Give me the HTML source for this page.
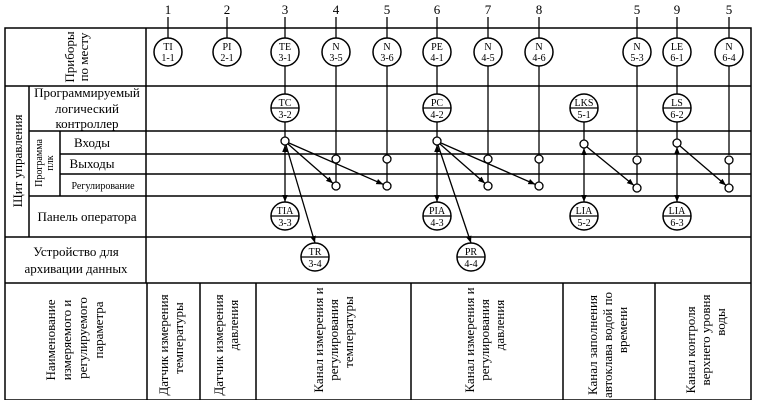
<!DOCTYPE html>
<html><head><meta charset="utf-8"><style>
html,body{margin:0;padding:0;background:#fff}
svg{display:block}
text{font-family:"Liberation Serif",serif;fill:#000}
.c{font-size:10px;text-anchor:middle}
.l{font-size:13px;text-anchor:middle}
.n{font-size:13px;text-anchor:middle}
</style></head><body>
<svg width="758" height="400" viewBox="0 0 758 400" xmlns="http://www.w3.org/2000/svg">
<defs>
<marker id="a" viewBox="0 0 10 10" refX="10" refY="5" markerWidth="7" markerHeight="7" orient="auto-start-reverse" markerUnits="userSpaceOnUse"><path d="M0,1 L10,5 L0,9 z" fill="#000"/></marker>
</defs>
<g stroke="#000" stroke-width="1.5" fill="none">
<rect x="5" y="28" width="746" height="372"/>
<line x1="5" y1="86" x2="751" y2="86"/>
<line x1="29" y1="131" x2="751" y2="131"/>
<line x1="60" y1="154" x2="751" y2="154"/>
<line x1="60" y1="174" x2="751" y2="174"/>
<line x1="29" y1="196" x2="751" y2="196"/>
<line x1="5" y1="237" x2="751" y2="237"/>
<line x1="5" y1="283" x2="751" y2="283"/>
<line x1="146" y1="28" x2="146" y2="283"/>
<line x1="29" y1="86" x2="29" y2="237"/>
<line x1="60" y1="131" x2="60" y2="196"/>
<line x1="147" y1="283" x2="147" y2="400"/>
<line x1="200" y1="283" x2="200" y2="400"/>
<line x1="256" y1="283" x2="256" y2="400"/>
<line x1="411" y1="283" x2="411" y2="400"/>
<line x1="563" y1="283" x2="563" y2="400"/>
<line x1="655" y1="283" x2="655" y2="400"/>
</g>
<!-- number leader lines -->
<g stroke="#000" stroke-width="1.3">
<line x1="168" y1="17" x2="168" y2="38"/><line x1="227" y1="17" x2="227" y2="38"/>
<line x1="285" y1="17" x2="285" y2="38"/><line x1="336" y1="17" x2="336" y2="38"/>
<line x1="387" y1="17" x2="387" y2="38"/><line x1="437" y1="17" x2="437" y2="38"/>
<line x1="488" y1="17" x2="488" y2="38"/><line x1="539" y1="17" x2="539" y2="38"/>
<line x1="637" y1="17" x2="637" y2="38"/><line x1="677" y1="17" x2="677" y2="38"/>
<line x1="729" y1="17" x2="729" y2="38"/>
<!-- verticals -->
<line x1="285" y1="66" x2="285" y2="94"/><line x1="285" y1="122" x2="285" y2="137"/>
<line x1="336" y1="66" x2="336" y2="155"/><line x1="336" y1="163" x2="336" y2="182"/>
<line x1="387" y1="66" x2="387" y2="155"/><line x1="387" y1="163" x2="387" y2="182"/>
<line x1="437" y1="66" x2="437" y2="94"/><line x1="437" y1="122" x2="437" y2="137"/>
<line x1="488" y1="66" x2="488" y2="155"/><line x1="488" y1="163" x2="488" y2="182"/>
<line x1="539" y1="66" x2="539" y2="155"/><line x1="539" y1="163" x2="539" y2="182"/>
<line x1="637" y1="66" x2="637" y2="155"/><line x1="637" y1="163" x2="637" y2="184"/>
<line x1="677" y1="66" x2="677" y2="94"/><line x1="677" y1="122" x2="677" y2="139"/>
<line x1="729" y1="66" x2="729" y2="155"/><line x1="729" y1="163" x2="729" y2="184"/>
<line x1="584" y1="122" x2="584" y2="140"/>
</g>
<!-- arrows -->
<g stroke="#000" stroke-width="1.3" marker-end="url(#a)">
<line x1="288" y1="144" x2="333" y2="183.4"/>
<line x1="289" y1="143" x2="383.3" y2="184.4"/>
<line x1="285" y1="145" x2="285" y2="202" marker-start="url(#a)"/>
<line x1="286" y1="145" x2="315" y2="243"/>
<line x1="440" y1="144" x2="485" y2="183.4"/>
<line x1="441" y1="143" x2="535.3" y2="184.4"/>
<line x1="437" y1="145" x2="437" y2="202" marker-start="url(#a)"/>
<line x1="438" y1="145" x2="471" y2="243"/>
<line x1="587" y1="147" x2="633.9" y2="185.4"/>
<line x1="584" y1="148" x2="584" y2="202" marker-start="url(#a)"/>
<line x1="680" y1="146" x2="726" y2="185.4"/>
<line x1="677" y1="147" x2="677" y2="202" marker-start="url(#a)"/>
</g>
<!-- small nodes -->
<g stroke="#000" stroke-width="1.3" fill="#fff">
<circle cx="285" cy="141" r="4"/><circle cx="437" cy="141" r="4"/>
<circle cx="584" cy="144" r="4"/><circle cx="677" cy="143" r="4"/>
<circle cx="336" cy="159" r="4"/><circle cx="387" cy="159" r="4"/>
<circle cx="488" cy="159" r="4"/><circle cx="539" cy="159" r="4"/>
<circle cx="637" cy="160" r="4"/><circle cx="729" cy="160" r="4"/>
<circle cx="336" cy="186" r="4"/><circle cx="387" cy="186" r="4"/>
<circle cx="488" cy="186" r="4"/><circle cx="539" cy="186" r="4"/>
<circle cx="637" cy="188" r="4"/><circle cx="729" cy="188" r="4"/>
</g>
<!-- big circles -->
<g stroke="#000" stroke-width="1.5" fill="#fff">
<circle cx="168" cy="52" r="14"/><circle cx="227" cy="52" r="14"/><circle cx="285" cy="52" r="14"/>
<circle cx="336" cy="52" r="14"/><circle cx="387" cy="52" r="14"/><circle cx="437" cy="52" r="14"/>
<circle cx="488" cy="52" r="14"/><circle cx="539" cy="52" r="14"/><circle cx="637" cy="52" r="14"/>
<circle cx="677" cy="52" r="14"/><circle cx="729" cy="52" r="14"/>
<circle cx="285" cy="108" r="14"/><circle cx="437" cy="108" r="14"/><circle cx="584" cy="108" r="14"/><circle cx="677" cy="108" r="14"/>
<circle cx="285" cy="216" r="14"/><circle cx="437" cy="216" r="14"/><circle cx="584" cy="216" r="14"/><circle cx="677" cy="216" r="14"/>
<circle cx="315" cy="257" r="14"/><circle cx="471" cy="257" r="14"/>
</g>
<g stroke="#000" stroke-width="1.3">
<line x1="271" y1="108" x2="299" y2="108"/><line x1="423" y1="108" x2="451" y2="108"/>
<line x1="570" y1="108" x2="598" y2="108"/><line x1="663" y1="108" x2="691" y2="108"/>
<line x1="271" y1="216" x2="299" y2="216"/><line x1="423" y1="216" x2="451" y2="216"/>
<line x1="570" y1="216" x2="598" y2="216"/><line x1="663" y1="216" x2="691" y2="216"/>
<line x1="301" y1="257" x2="329" y2="257"/><line x1="457" y1="257" x2="485" y2="257"/>
</g>
<!-- circle texts -->
<g class="c">
<text class="c" x="168" y="50">TI</text><text class="c" x="168" y="61">1-1</text>
<text class="c" x="227" y="50">PI</text><text class="c" x="227" y="61">2-1</text>
<text class="c" x="285" y="50">TE</text><text class="c" x="285" y="61">3-1</text>
<text class="c" x="336" y="50">N</text><text class="c" x="336" y="61">3-5</text>
<text class="c" x="387" y="50">N</text><text class="c" x="387" y="61">3-6</text>
<text class="c" x="437" y="50">PE</text><text class="c" x="437" y="61">4-1</text>
<text class="c" x="488" y="50">N</text><text class="c" x="488" y="61">4-5</text>
<text class="c" x="539" y="50">N</text><text class="c" x="539" y="61">4-6</text>
<text class="c" x="637" y="50">N</text><text class="c" x="637" y="61">5-3</text>
<text class="c" x="677" y="50">LE</text><text class="c" x="677" y="61">6-1</text>
<text class="c" x="729" y="50">N</text><text class="c" x="729" y="61">6-4</text>
<text class="c" x="285" y="106">TC</text><text class="c" x="285" y="118">3-2</text>
<text class="c" x="437" y="106">PC</text><text class="c" x="437" y="118">4-2</text>
<text class="c" x="584" y="106">LKS</text><text class="c" x="584" y="118">5-1</text>
<text class="c" x="677" y="106">LS</text><text class="c" x="677" y="118">6-2</text>
<text class="c" x="285" y="214">TIA</text><text class="c" x="285" y="226">3-3</text>
<text class="c" x="437" y="214">PIA</text><text class="c" x="437" y="226">4-3</text>
<text class="c" x="584" y="214">LIA</text><text class="c" x="584" y="226">5-2</text>
<text class="c" x="677" y="214">LIA</text><text class="c" x="677" y="226">6-3</text>
<text class="c" x="315" y="255">TR</text><text class="c" x="315" y="267">3-4</text>
<text class="c" x="471" y="255">PR</text><text class="c" x="471" y="267">4-4</text>
</g>
<!-- numbers -->
<text class="n" x="168" y="14">1</text><text class="n" x="227" y="14">2</text><text class="n" x="285" y="14">3</text>
<text class="n" x="336" y="14">4</text><text class="n" x="387" y="14">5</text><text class="n" x="437" y="14">6</text>
<text class="n" x="488" y="14">7</text><text class="n" x="539" y="14">8</text><text class="n" x="637" y="14">5</text>
<text class="n" x="677" y="14">9</text><text class="n" x="729" y="14">5</text>
<!-- left labels -->
<text class="l" transform="translate(76,57) rotate(-90)"><tspan x="0" y="-2">Приборы</tspan><tspan x="0" y="12">по месту</tspan></text>
<text class="l" x="87" y="97">Программируемый</text>
<text class="l" x="87" y="113">логический</text>
<text class="l" x="87" y="128">контроллер</text>
<text class="l" x="92" y="147">Входы</text>
<text class="l" x="92" y="168">Выходы</text>
<text style="font-size:10px;text-anchor:middle" x="103" y="189">Регулирование</text>
<text class="l" x="87" y="221">Панель оператора</text>
<text class="l" x="76" y="256">Устройство для</text>
<text class="l" x="76" y="273">архивации данных</text>
<text class="l" transform="translate(22,161) rotate(-90)">Щит управления</text>
<text style="font-size:10px;text-anchor:middle" transform="translate(44,163) rotate(-90)"><tspan x="0" y="-2">Программа</tspan><tspan x="0" y="9">плк</tspan></text>
<!-- bottom vertical labels -->
<g class="l">
<text class="l" transform="translate(55,340) rotate(-90)">Наименование</text>
<text class="l" transform="translate(71,340) rotate(-90)">измеряемого и</text>
<text class="l" transform="translate(87,338) rotate(-90)">регулируемого</text>
<text class="l" transform="translate(103,330) rotate(-90)">параметра</text>
<text class="l" transform="translate(168,345) rotate(-90)">Датчик измерения</text>
<text class="l" transform="translate(183,338) rotate(-90)">температуры</text>
<text class="l" transform="translate(223,345) rotate(-90)">Датчик измерения</text>
<text class="l" transform="translate(238,325) rotate(-90)">давления</text>
<text class="l" transform="translate(323,340) rotate(-90)">Канал измерения   и</text>
<text class="l" transform="translate(338,340) rotate(-90)">регулирования</text>
<text class="l" transform="translate(353,332) rotate(-90)">температуры</text>
<text class="l" transform="translate(474,340) rotate(-90)">Канал измерения   и</text>
<text class="l" transform="translate(489,340) rotate(-90)">регулирования</text>
<text class="l" transform="translate(504,325) rotate(-90)">давления</text>
<text class="l" transform="translate(597,345) rotate(-90)">Канал  заполнения</text>
<text class="l" transform="translate(612,345) rotate(-90)">автоклава водой по</text>
<text class="l" transform="translate(627,330) rotate(-90)">времени</text>
<text class="l" transform="translate(695,350) rotate(-90)">Канал контроля</text>
<text class="l" transform="translate(710,340) rotate(-90)">верхнего уровня</text>
<text class="l" transform="translate(725,322) rotate(-90)">воды</text>
</g>
</svg>
</body></html>
